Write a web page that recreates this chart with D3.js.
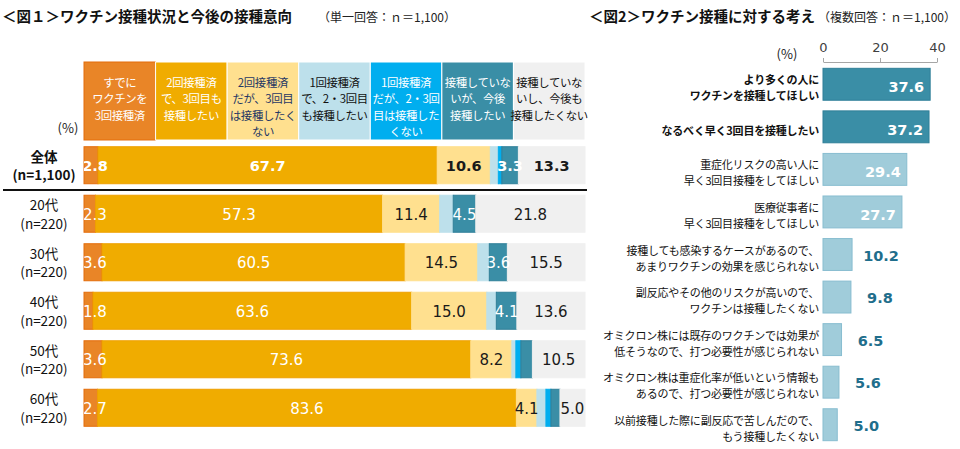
<!DOCTYPE html>
<html><head><meta charset="utf-8">
<script src="https://cdn.jsdelivr.net/npm/d3@7"></script>
<style>
html,body{margin:0;padding:0;background:#fff;}
svg{display:block;}
text{font-family:"Noto Sans CJK JP","Noto Sans",sans-serif;}
.num{font-family:"DejaVu Sans",Verdana,sans-serif;}
</style></head>
<body>
<script>
// ---------- Figure 1 data ----------
const groupNames = ["全体", "20代", "30代", "40代", "50代", "60代"];
const groupN = ["(n=1,100)", "(n=220)", "(n=220)", "(n=220)", "(n=220)", "(n=220)"];
const seriesLabels = [
  ["すでに", "ワクチンを", "3回接種済"],
  ["2回接種済", "で、3回目も", "接種したい"],
  ["2回接種済", "だが、3回目", "は接種したく", "ない"],
  ["1回接種済", "で、2・3回目", "も接種したい"],
  ["1回接種済", "だが、2・3回", "目は接種した", "くない"],
  ["接種していな", "いが、今後", "接種したい"],
  ["接種していな", "いし、今後も", "接種したくない"]
];
const s1Done3 = [2.8, 2.3, 3.6, 1.8, 3.6, 2.7];
const s2Want3 = [67.7, 57.3, 60.5, 63.6, 73.6, 83.6];
const s3NoWant3 = [10.6, 11.4, 14.5, 15.0, 8.2, 4.1];
const s4Want23 = [1.6, 2.7, 2.3, 1.9, 0.8, 1.8];
const s5NoWant23 = [0.7, 0.0, 0.0, 0.0, 1.0, 1.0];
const s6WantFuture = [3.3, 4.5, 3.6, 4.1, 2.3, 1.8];
const s7Never = [13.3, 21.8, 15.5, 13.6, 10.5, 5.0];
const seriesValues = [s1Done3, s2Want3, s3NoWant3, s4Want23, s5NoWant23, s6WantFuture, s7Never];

// ---------- Figure 2 data ----------
const reasonLabels = [
  ["より多くの人に", "ワクチンを接種してほしい"],
  ["なるべく早く3回目を接種したい"],
  ["重症化リスクの高い人に", "早く3回目接種をしてほしい"],
  ["医療従事者に", "早く3回目接種をしてほしい"],
  ["接種しても感染するケースがあるので、", "あまりワクチンの効果を感じられない"],
  ["副反応やその他のリスクが高いので、", "ワクチンは接種したくない"],
  ["オミクロン株には既存のワクチンでは効果が", "低そうなので、打つ必要性が感じられない"],
  ["オミクロン株は重症化率が低いという情報も", "あるので、打つ必要性が感じられない"],
  ["以前接種した際に副反応で苦しんだので、", "もう接種したくない"]
];
const reasonValues = [37.6, 37.2, 29.4, 27.7, 10.2, 9.8, 6.5, 5.6, 5.0];
const axisTicks = [0, 20, 40];

// ---------- styles ----------
const segFill = ["#E98527", "#F0AC00", "#FFE08F", "#BDE0EB", "#00AEEF", "#3A8EA6", "#F0F0F0"];
const segStroke = ["#E46C0A", "#EFA000", "#FFE08F", "#BDE0EB", "#00AEEF", "#2F7F98", "#F0F0F0"];
const headTextColor = ["#fff", "#fff", "#1F3864", "#111", "#fff", "#fff", "#111"];
const segTextColor = ["#fff", "#fff", "#1a1a1a", "#1a1a1a", "#fff", "#fff", "#1a1a1a"];

const W = 960, H = 449;
const svg = d3.select("body").append("svg").attr("width", W).attr("height", H);

// titles
svg.append("text").attr("x", 2).attr("y", 15).attr("dominant-baseline", "central")
  .attr("font-size", 14.5).attr("font-weight", "bold").attr("fill", "#111")
  .text("＜図１＞ワクチン接種状況と今後の接種意向");
svg.append("text").attr("x", 318).attr("y", 16).attr("dominant-baseline", "central")
  .attr("font-size", 12).attr("fill", "#222").text("（単一回答：ｎ＝1,100）");
svg.append("text").attr("x", 589).attr("y", 15).attr("dominant-baseline", "central")
  .attr("font-size", 14.5).attr("font-weight", "bold").attr("fill", "#111")
  .text("＜図2＞ワクチン接種に対する考え");
svg.append("text").attr("x", 818).attr("y", 16).attr("dominant-baseline", "central")
  .attr("font-size", 12).attr("fill", "#222").text("（複数回答：ｎ＝1,100）");

// ---------- Figure 1 ----------
const x1 = d3.scaleLinear().domain([0, 100]).range([84, 585]);
const y1 = d3.scaleBand().domain(groupNames).range([141, 432]).paddingInner(0.237).paddingOuter(0.118);
const hx = d3.scaleBand().domain(d3.range(seriesLabels.length)).range([84, 585]);

const g1 = svg.append("g");
// header boxes
const head = g1.selectAll("g.head").data(seriesLabels).join("g").attr("class", "head");
head.append("rect")
  .attr("x", (d, i) => hx(i)).attr("y", 62).attr("width", hx.bandwidth()).attr("height", 78)
  .attr("fill", (d, i) => segFill[i])
  .attr("stroke", (d, i) => i === 0 ? "#E46C0A" : "#fff").attr("stroke-width", 1);
head.each(function(lines, i) {
  const t = d3.select(this).append("text").attr("font-size", 11.4).attr("letter-spacing", -0.35)
    .attr("text-anchor", "middle").attr("fill", headTextColor[i]);
  lines.forEach((ln, k) => {
    t.append("tspan").attr("x", hx(i) + hx.bandwidth() / 2).attr("y", 81.5 + k * 16.5)
      .attr("dominant-baseline", "central").text(ln);
  });
});
g1.append("text").attr("x", 68).attr("y", 127).attr("text-anchor", "middle")
  .attr("dominant-baseline", "central").attr("font-size", 13).attr("fill", "#222").text("(%)");

// stacked data
const stackRows = groupNames.map((g, gi) => {
  let acc = 0;
  return seriesValues.map((arr, si) => {
    const v = arr[gi]; const s = { g, gi, si, v, x0: acc, x1: acc + v }; acc += v; return s;
  });
});

svg.append("clipPath").attr("id", "plot1").append("rect")
  .attr("x", 84).attr("y", 130).attr("width", 501).attr("height", 310);

const rows = g1.selectAll("g.row").data(stackRows).join("g").attr("class", "row");
rows.selectAll("rect").data(d => d.filter(s => s.v > 0)).join("rect")
  .attr("x", s => x1(s.x0)).attr("y", s => y1(s.g))
  .attr("width", s => x1(s.x1) - x1(s.x0)).attr("height", y1.bandwidth())
  .attr("fill", s => segFill[s.si]).attr("stroke", s => segStroke[s.si]).attr("stroke-width", 1);

const labG = g1.append("g").attr("clip-path", "url(#plot1)");
stackRows.forEach(row => {
  row.forEach(s => {
    if (s.si === 3 || s.si === 4) return;
    if (s.si === 5 && s.v < 3) return;
    let cx = (x1(s.x0) + x1(s.x1)) / 2;
    if (s.si === 0) cx = Math.max(cx, 95);
    labG.append("text").attr("class", "num")
      .attr("x", cx).attr("y", y1(s.g) + y1.bandwidth() / 2 + 1)
      .attr("text-anchor", "middle").attr("dominant-baseline", "central")
      .attr("font-size", s.gi === 0 ? 14.5 : 15)
      .attr("font-weight", s.gi === 0 ? "bold" : "normal")
      .attr("fill", segTextColor[s.si]).text(s.v.toFixed(1));
  });
});

// row labels
groupNames.forEach((g, gi) => {
  const cy = y1(g) + y1.bandwidth() / 2;
  const fs = 13.5;
  g1.append("text").attr("x", 44).attr("y", cy - 9.5).attr("text-anchor", "middle")
    .attr("dominant-baseline", "central").attr("font-size", fs)
    .attr("font-weight", gi === 0 ? "bold" : "normal").attr("fill", "#111").text(g);
  g1.append("text").attr("x", 44).attr("y", cy + 9).attr("text-anchor", "middle")
    .attr("dominant-baseline", "central").attr("font-size", fs)
    .attr("font-weight", gi === 0 ? "bold" : "normal").attr("fill", "#111").text(groupN[gi]);
});
// separator
const sepY = (y1("全体") + y1.bandwidth() + y1("20代")) / 2 + 0.5;
g1.append("line").attr("x1", 3).attr("x2", 587).attr("y1", sepY).attr("y2", sepY)
  .attr("stroke", "#111").attr("stroke-width", 2);

// ---------- Figure 2 ----------
const x2 = d3.scaleLinear().domain([0, 40]).range([823, 937]);
const idx = d3.range(reasonValues.length);
const y2 = d3.scaleBand().domain(idx).range([63, 446]).paddingInner(0.25).paddingOuter(0.125);
const g2 = svg.append("g");

const ax = g2.append("g").attr("transform", "translate(0,62)")
  .call(d3.axisTop(x2).tickValues(axisTicks).tickSize(4).tickSizeOuter(0).tickPadding(6));
ax.select(".domain").attr("stroke", "#A6A6A6");
ax.selectAll(".tick line").attr("stroke", "#A6A6A6");
ax.selectAll(".tick text").attr("class", "num").attr("font-size", 13).attr("fill", "#404040")
  .attr("font-family", "DejaVu Sans, sans-serif");
g2.append("text").attr("x", 787).attr("y", 53).attr("text-anchor", "middle")
  .attr("dominant-baseline", "central").attr("font-size", 13).attr("fill", "#222").text("(%)");

g2.selectAll("rect.rb").data(idx).join("rect").attr("class", "rb")
  .attr("x", x2(0)).attr("y", i => y2(i))
  .attr("width", i => x2(reasonValues[i]) - x2(0)).attr("height", y2.bandwidth())
  .attr("fill", i => i < 2 ? "#3A8EA6" : "#A0CCDA")
  .attr("stroke", i => i < 2 ? "#2F7F98" : "#88BDD0").attr("stroke-width", 1);

idx.forEach(i => {
  const v = reasonValues[i];
  const cy = y2(i) + y2.bandwidth() / 2;
  const inside = v > 20;
  g2.append("text").attr("class", "num")
    .attr("x", inside ? x2(v) - 6 : x2(v) + 29).attr("y", cy + (inside ? 3 : 1))
    .attr("text-anchor", inside ? "end" : "middle").attr("dominant-baseline", "central")
    .attr("font-size", 14.5).attr("font-weight", "bold")
    .attr("fill", inside ? "#fff" : "#1F6E8C").text(v.toFixed(1));
  const lines = reasonLabels[i];
  lines.forEach((ln, k) => {
    const off = lines.length === 1 ? 3 : (k === 0 ? -5 : 11);
    g2.append("text").attr("x", 819).attr("y", cy + off).attr("text-anchor", "end")
      .attr("dominant-baseline", "central").attr("font-size", 11).attr("letter-spacing", -0.2)
      .attr("font-weight", i < 2 ? "bold" : "normal").attr("fill", "#111").text(ln);
  });
});
</script>
</body></html>
